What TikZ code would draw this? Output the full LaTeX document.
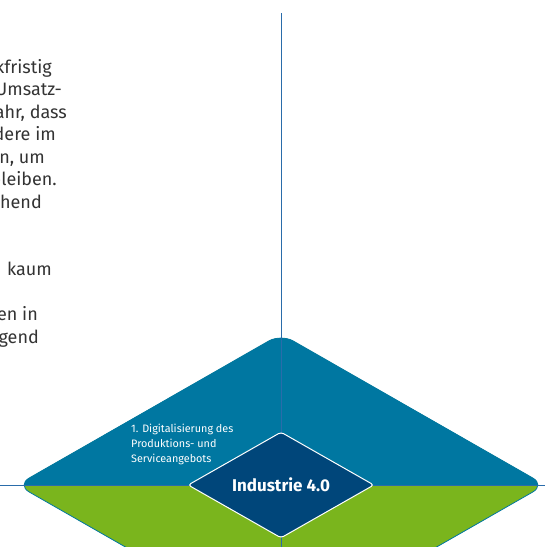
\documentclass[tikz,border=0pt]{standalone}
\usepackage{fontspec}
\setmainfont{Fira Sans}
\usetikzlibrary{shapes.geometric}
\definecolor{diablue}{HTML}{0077A1}
\definecolor{diagreen}{HTML}{7AB51D}
\definecolor{coreblue}{HTML}{00467A}
\definecolor{rulecol}{HTML}{2A6CAA}
\definecolor{bodytext}{HTML}{333333}

\begin{document}
\begin{tikzpicture}[x=1pt, y=-1pt,
	txt/.style={anchor=base east, inner sep=0pt, text=bodytext, 
	font=\fontsize{18}{22}\selectfont},
	rule/.style={draw=rulecol, line width=1pt},
	core/.style={diamond, aspect=1.755, minimum width=186pt, 
	minimum height=106pt, inner sep=0pt, fill=coreblue, draw=white, 
	line width=1pt, rounded corners=3pt, text=white, 
	font=\fontsize{17}{20}\selectfont\bfseries}
	]
	\useasboundingbox (0,0) rectangle (546,547);
	
	% big diamond, green below and blue above
	\coordinate (L) at (17,485);
	\coordinate (T) at (281,334);
	\coordinate (R) at (545,485);
	\coordinate (B) at (281,636);
	\filldraw[fill=diagreen, draw=diablue, line width=0.8pt, rounded corners=14pt] 
	(L) -- (T) -- (R) -- (B) -- cycle;
	\begin{scope}
		\clip (0,0) rectangle (546,485);
		\fill[diablue, rounded corners=14pt] (L) -- (T) -- (R) -- (B) -- cycle;
	\end{scope}
	
	\coordinate (top) at (281,13);
	\coordinate (bottom) at (281,547);
	\coordinate (left) at (0,485);
	\draw[rule] (top) -- (bottom);
	\draw[rule] (left) -- (R);
	
	\node[core] (core) at (281,485) {Industrie 4.0};
	\node[anchor=north west, inner sep=0pt, align=left, text=white, 
	font=\fontsize{10.8}{15}\selectfont] (label) at (131,424) 
	{1. Digitalisierung des\\Produktions- und\\Serviceangebots};
	
	% text column, cut at the left edge
	\node[txt] (l1) at (52,73) {kfristig};
	\node[txt] (l2) at (62,95.5) {Umsatz-};
	\node[txt] (l3) at (67,118) {ahr, dass};
	\node[txt] (l4) at (56,140.5) {dere im};
	\node[txt] (l5) at (45,163) {n, um};
	\node[txt] (l6) at (57,185.5) {bleiben.};
	\node[txt] (l7) at (42,208) {hend};
	\node[txt] (l8) at (52,275.5) {kaum};
	\node[txt] (l9) at (38,320.5) {en in};
	\node[txt] (l10) at (39,343) {gend};
\end{tikzpicture}
\end{document}
